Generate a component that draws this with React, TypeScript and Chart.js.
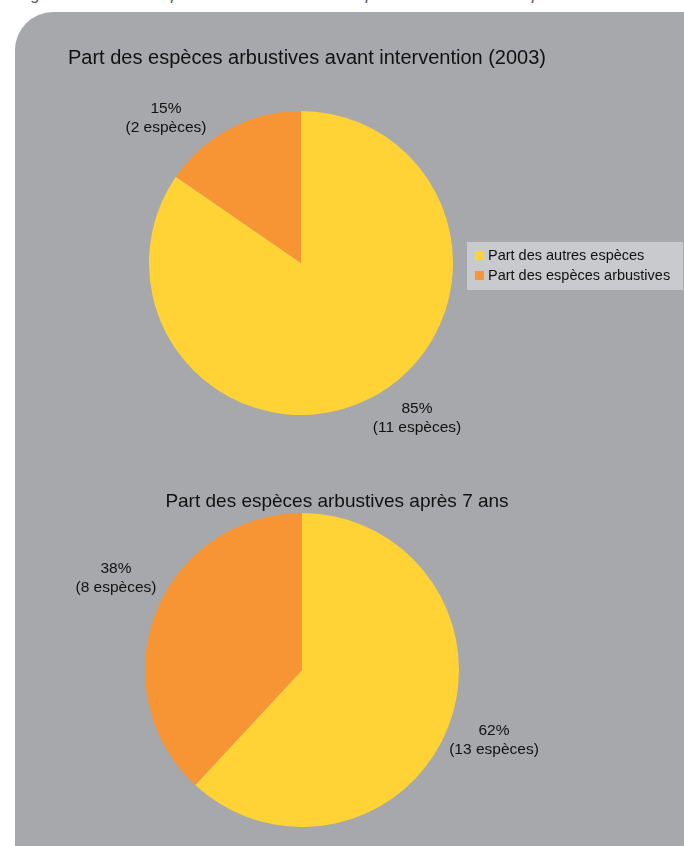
import React, { useEffect, useRef } from "react";
import { Chart, registerables } from "chart.js";

Chart.register(...registerables);

// ---- data ----
const categories = ["Part des autres espèces", "Part des espèces arbustives"];
const speciesBefore = [11, 2];
const speciesAfter = [13, 8];
const titleBefore = "Part des espèces arbustives avant intervention (2003)";
const titleAfter = "Part des espèces arbustives après 7 ans";
const caption = "Figure 6 : Part des espèces arbustives avant et après intervention sur la parcelle";

// ---- styles ----
const COLORS = ["#FFD236", "#F79433"];
const PANEL = "#A7A8AC";
const FONT = '"Liberation Sans", Arial, sans-serif';

type LabelPos = { x: number; y: number };

function pct(v: number, data: number[]) {
  const total = data.reduce((a, b) => a + b, 0);
  return Math.round((v / total) * 100) + "%";
}

function makeOverlay(opts: {
  title: string;
  titleX: number;
  titleY: number;
  titleSize: number;
  data: number[];
  labels: LabelPos[];
  legend?: { x: number; y: number; w: number; h: number };
}) {
  return {
    id: "overlay",
    afterDraw(chart: any) {
      const ctx = chart.ctx as CanvasRenderingContext2D;
      ctx.save();
      ctx.fillStyle = "#111";
      ctx.textAlign = "center";
      ctx.textBaseline = "alphabetic";
      ctx.font = `${opts.titleSize}px ${FONT}`;
      ctx.fillText(opts.title, opts.titleX, opts.titleY);

      ctx.font = `15.5px ${FONT}`;
      opts.data.forEach((v, i) => {
        const p = opts.labels[i];
        ctx.fillText(pct(v, opts.data), p.x, p.y);
        ctx.fillText(`(${v} espèces)`, p.x, p.y + 19);
      });

      if (opts.legend) {
        const L = opts.legend;
        ctx.fillStyle = "#C9CACD";
        ctx.fillRect(L.x, L.y, L.w, L.h);
        ctx.font = `14.5px ${FONT}`;
        ctx.textAlign = "left";
        categories.forEach((c, i) => {
          const rowY = L.y + 9 + i * 20;
          ctx.fillStyle = COLORS[i];
          ctx.fillRect(L.x + 8, rowY, 9, 9);
          ctx.fillStyle = "#111";
          ctx.fillText(c, L.x + 21, rowY + 9);
        });
      }
      ctx.restore();
    },
  };
}

function PieCanvas(props: {
  width: number;
  height: number;
  top: number;
  data: number[];
  padding: { left: number; right: number; top: number; bottom: number };
  overlay: any;
}) {
  const ref = useRef<HTMLCanvasElement | null>(null);
  useEffect(() => {
    if (!ref.current) return;
    const chart = new Chart(ref.current, {
      type: "pie",
      data: {
        labels: categories,
        datasets: [
          {
            data: props.data,
            backgroundColor: COLORS,
            borderWidth: 0,
            hoverOffset: 0,
            offset: 0,
          },
        ],
      },
      options: {
        responsive: false,
        animation: false,
        layout: { padding: props.padding },
        plugins: {
          legend: { display: false },
          title: { display: false },
          tooltip: { enabled: false },
        },
        events: [],
      },
      plugins: [props.overlay],
    });
    return () => chart.destroy();
  }, []);
  return (
    <canvas
      ref={ref}
      width={props.width}
      height={props.height}
      style={{
        position: "absolute",
        left: 0,
        top: props.top,
        width: props.width,
        height: props.height,
      }}
    />
  );
}

export default function App() {
  const overlay1 = makeOverlay({
    title: titleBefore,
    titleX: 307,
    titleY: 64,
    titleSize: 20,
    data: speciesBefore,
    labels: [
      { x: 417, y: 413 },
      { x: 166, y: 112.5 },
    ],
    legend: { x: 467, y: 242, w: 216, h: 48 },
  });
  const overlay2 = makeOverlay({
    title: titleAfter,
    titleX: 337,
    titleY: 47,
    titleSize: 19,
    data: speciesAfter,
    labels: [
      { x: 494, y: 735 - 460 },
      { x: 116, y: 573 - 460 },
    ],
  });

  return (
    <div
      style={{
        position: "absolute",
        left: 0,
        top: 0,
        width: 684,
        height: 846,
        overflow: "hidden",
        background: "#fff",
      }}
    >
      <div
        style={{
          position: "absolute",
          left: 18,
          top: -13,
          font: `italic 16px ${FONT}`,
          color: "#555",
          whiteSpace: "nowrap",
          lineHeight: "16px",
        }}
      >
        {caption}
      </div>
      <div
        style={{
          position: "absolute",
          left: 15,
          top: 12,
          width: 720,
          height: 900,
          background: PANEL,
          borderTopLeftRadius: 38,
        }}
      />
      <PieCanvas
        width={684}
        height={460}
        top={0}
        data={speciesBefore}
        padding={{ left: 149, right: 231, top: 111, bottom: 45 }}
        overlay={overlay1}
      />
      <PieCanvas
        width={684}
        height={386}
        top={460}
        data={speciesAfter}
        padding={{ left: 145, right: 225, top: 53, bottom: 19 }}
        overlay={overlay2}
      />
    </div>
  );
}
